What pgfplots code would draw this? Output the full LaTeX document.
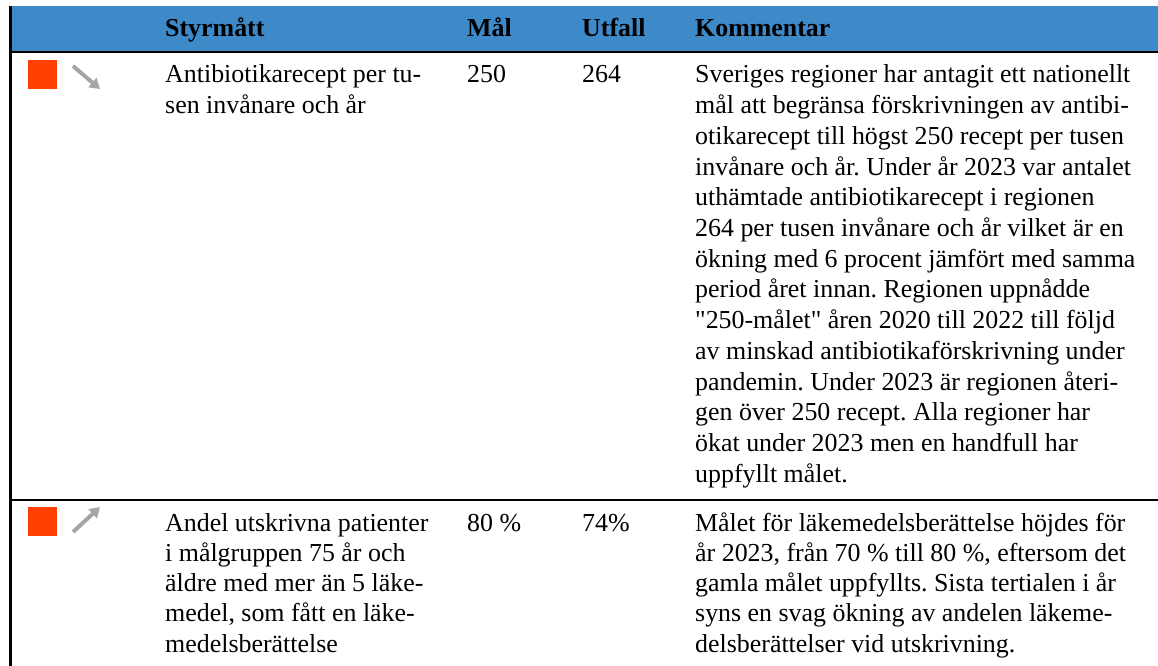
\documentclass[border=0pt]{standalone}
\usepackage{fontspec}
\setmainfont{Liberation Serif}[Ligatures=TeXOff]
\usepackage{pgfplots}
\pgfplotsset{compat=1.18}
\usetikzlibrary{arrows.meta}
\frenchspacing
\definecolor{hdrblue}{RGB}{62,137,200}
\definecolor{stat}{RGB}{255,64,0}
\definecolor{arrgray}{RGB}{165,165,165}
\newcommand{\tl}[3]{\node[anchor=base west,inner sep=0pt,font=\fontsize{26}{30}\selectfont\frenchspacing] at (axis cs:#1,#2) {#3};}
\newcommand{\hd}[3]{\node[anchor=base west,inner sep=0pt,font=\fontsize{26}{30}\selectfont\bfseries] at (axis cs:#1,#2) {#3};}
\begin{document}
\begin{tikzpicture}
\begin{axis}[
  width=1158bp, height=666bp, scale only axis,
  xmin=0, xmax=1158, ymin=0, ymax=666, y dir=reverse,
  hide axis, clip=false]
% header band
\fill[hdrblue] (axis cs:10,6) rectangle (axis cs:1158,51);
\draw[black, line width=2.6bp] (axis cs:10,52) -- (axis cs:1158,52);
\draw[black, line width=2.2bp] (axis cs:10,500) -- (axis cs:1158,500);
\draw[black, line width=3bp] (axis cs:10.5,6) -- (axis cs:10.5,666);
% status squares
\addplot[only marks, mark=square*, mark size=14bp, color=stat] coordinates {(42.5,74) (42.5,521)};
% trend arrows
\draw[arrgray, line width=4bp, -{Triangle[length=10bp,width=12bp]}] (axis cs:73,66) -- (axis cs:100,89);
\draw[arrgray, line width=4bp, -{Triangle[length=10bp,width=12bp]}] (axis cs:73,532) -- (axis cs:100,507);
% header
\hd{165}{37}{Styrmått}
\hd{467}{37}{Mål}
\hd{582}{37}{Utfall}
\hd{695}{37}{Kommentar}
% row 1
\tl{165}{83}{Antibiotikarecept per tu-}
\tl{165}{113.7}{sen invånare och år}
\tl{467}{83}{250}
\tl{582}{83}{264}
\tl{695}{83}{Sveriges regioner har antagit ett nationellt}
\tl{695}{113.7}{mål att begränsa förskrivningen av antibi-}
\tl{695}{144.4}{otikarecept till högst 250 recept per tusen}
\tl{695}{175.1}{invånare och år. Under år 2023 var antalet}
\tl{695}{205.8}{uthämtade antibiotikarecept i regionen}
\tl{695}{236.5}{264 per tusen invånare och år vilket är en}
\tl{695}{267.2}{ökning med 6 procent jämfört med samma}
\tl{695}{297.9}{period året innan. Regionen uppnådde}
\tl{695}{328.6}{"250-målet" åren 2020 till 2022 till följd}
\tl{695}{359.3}{av minskad antibiotikaförskrivning under}
\tl{695}{390.0}{pandemin. Under 2023 är regionen återi-}
\tl{695}{420.7}{gen över 250 recept. Alla regioner har}
\tl{695}{451.4}{ökat under 2023 men en handfull har}
\tl{695}{482.1}{uppfyllt målet.}
% row 2
\tl{165}{531}{Andel utskrivna patienter}
\tl{165}{561.3}{i målgruppen 75 år och}
\tl{165}{591.6}{äldre med mer än 5 läke-}
\tl{165}{621.9}{medel, som fått en läke-}
\tl{165}{652.2}{medelsberättelse}
\tl{467}{531}{80 \%}
\tl{582}{531}{74\%}
\tl{695}{531}{Målet för läkemedelsberättelse höjdes för}
\tl{695}{561.3}{år 2023, från 70 \% till 80 \%, eftersom det}
\tl{695}{591.6}{gamla målet uppfyllts. Sista tertialen i år}
\tl{695}{621.9}{syns en svag ökning av andelen läkeme-}
\tl{695}{652.2}{delsberättelser vid utskrivning.}
\end{axis}
\pgfresetboundingbox
\path (0,0) rectangle (1158bp,666bp);
\end{tikzpicture}
\end{document}
